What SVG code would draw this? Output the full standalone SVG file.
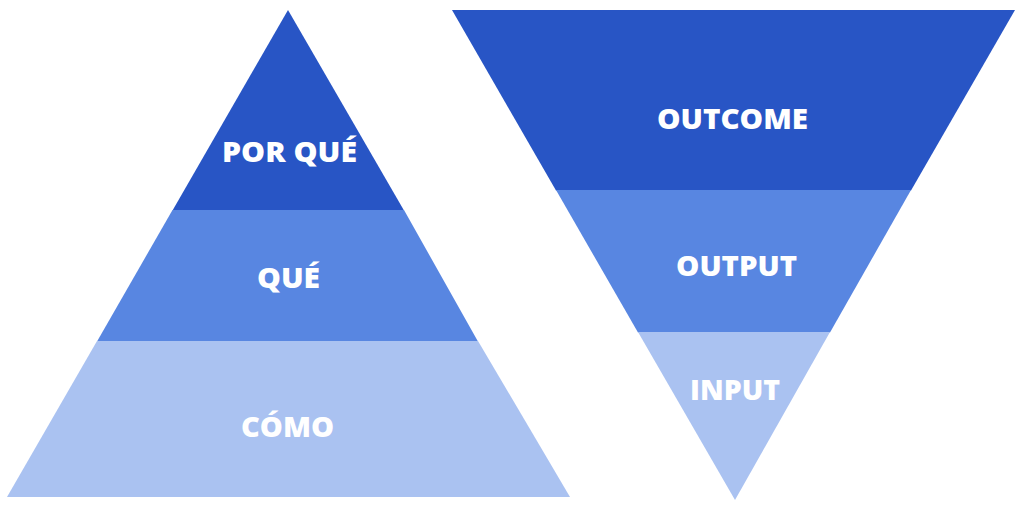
<svg xmlns="http://www.w3.org/2000/svg" width="1024" height="518" viewBox="0 0 1024 518">
<style>
.dark{fill:#2855C5}
.mid{fill:#5886E1}
.light{fill:#AAC2F1}
text{font-family:"Open Sans","Liberation Sans",sans-serif;font-weight:800;font-size:28px;fill:#FFFFFF;text-anchor:middle}
</style>
<rect width="1024" height="518" fill="#FFFFFF"/>
<g id="pyramid">
<g id="por-que"><polygon class="dark" points="288,10 404,210.5 172.5,210.5"/><text x="289.5" y="162" textLength="135" lengthAdjust="spacingAndGlyphs">POR QUÉ</text></g>
<g id="que"><polygon class="mid" points="172.5,210 404,210 478,341.5 97,341.5"/><text x="288.5" y="288" textLength="63" lengthAdjust="spacingAndGlyphs">QUÉ</text></g>
<g id="como"><polygon class="light" points="97,341 478,341 570,497 7,497"/><text x="287.5" y="437" textLength="93" lengthAdjust="spacingAndGlyphs">CÓMO</text></g>
</g>
<g id="funnel">
<g id="outcome"><polygon class="dark" points="452,10 1015,10 911,190.5 556,190.5"/><text x="732.5" y="129" textLength="151" lengthAdjust="spacingAndGlyphs">OUTCOME</text></g>
<g id="output"><polygon class="mid" points="556,190 911,190 830,332.5 638,332.5"/><text x="736.5" y="276" textLength="121" lengthAdjust="spacingAndGlyphs">OUTPUT</text></g>
<g id="input"><polygon class="light" points="638,332 830,332 735,500"/><text x="735" y="400" textLength="90" lengthAdjust="spacingAndGlyphs">INPUT</text></g>
</g>
<g id="connectors"/>
</svg>
